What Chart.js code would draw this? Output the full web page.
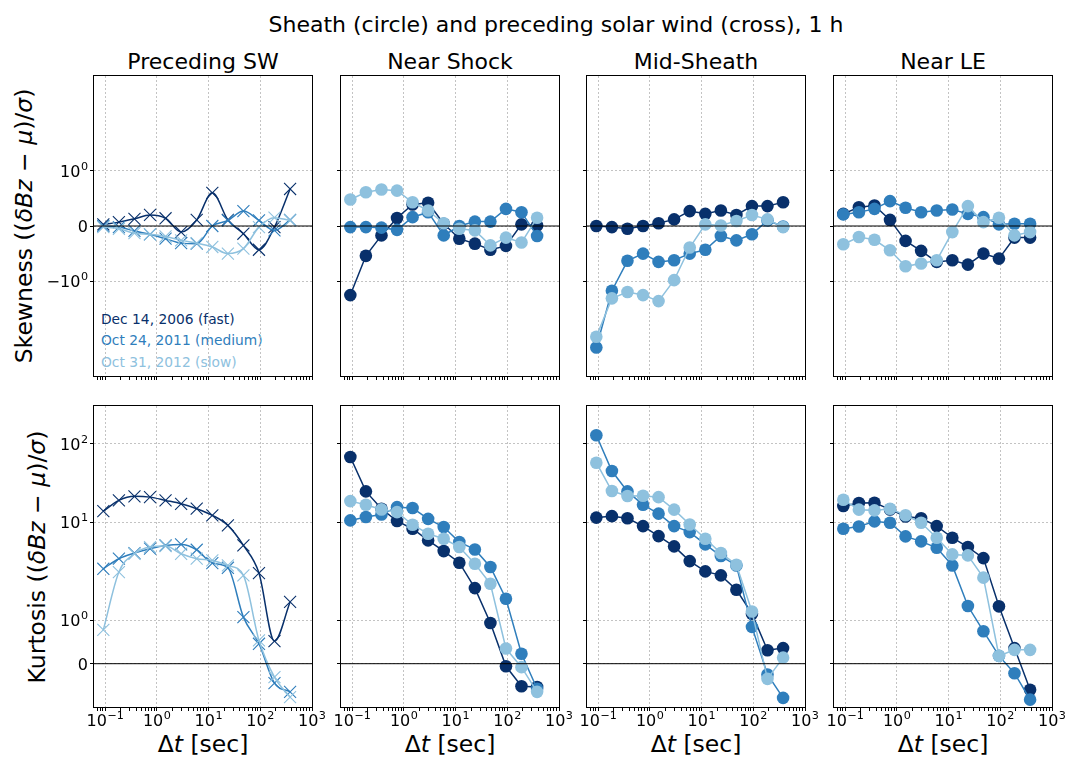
<!DOCTYPE html>
<html>
<head>
<meta charset="utf-8">
<script src="https://cdn.jsdelivr.net/npm/chart.js@4.4.1/dist/chart.umd.min.js"></script>
<style>
  body { margin: 0; background: #fff; width: 1070px; height: 758px; position: relative; overflow: hidden;
         font-family: "DejaVu Sans", sans-serif; color: #000; }
  canvas { position: absolute; }
  .txt { position: absolute; white-space: nowrap; line-height: 1; transform: translate(-50%, -50%); }
  .ylab { position: absolute; white-space: nowrap; line-height: 1; font-size: 23.5px;
          transform: translate(-50%, -50%) rotate(-90deg); }
  .leg { position: absolute; white-space: nowrap; line-height: 1; font-size: 13.8px; transform: translateY(-50%); }
</style>
</head>
<body>
<div class="txt" style="left:556px;top:25px;font-size:22px">Sheath (circle) and preceding solar wind (cross), 1 h</div>
<div id="labels"></div>

<script>
// lag times (0.092 s cadence, doubled each step)
const dtSec = [0.092, 0.184, 0.368, 0.736, 1.47, 2.94, 5.89, 11.8, 23.6, 47.1, 94.2, 188, 377];

const eventNames = ['Dec 14, 2006 (fast)', 'Oct 24, 2011 (medium)', 'Oct 31, 2012 (slow)'];
const eventColors = ['#08306b', '#2f7ebc', '#8ec1de'];
const regionNames = ['Preceding SW', 'Near Shock', 'Mid-Sheath', 'Near LE'];

// skewness, rows = fast, medium, slow
const skewPrecedingSW = [
  [0.03, 0.07, 0.13, 0.2, 0.14, -0.11, 0.11, 0.6, 0.11, -0.14, -0.43, -0.02, 0.67],
  [0.0, -0.02, -0.09, -0.15, -0.23, -0.31, -0.32, 0.0, 0.1, 0.27, 0.1, -0.08, 0.11],
  [-0.02, -0.05, -0.13, -0.15, -0.19, -0.26, -0.31, -0.38, -0.5, -0.41, -0.02, 0.15, 0.1]
];
const skewNearShock = [
  [-1.29, -0.54, -0.17, 0.145, 0.39, 0.42, 0.04, -0.23, -0.32, -0.43, -0.36, 0.03, 0.01],
  [-0.02, -0.02, -0.03, -0.07, 0.16, 0.25, -0.17, 0.0, 0.08, 0.08, 0.31, 0.25, -0.18],
  [0.48, 0.61, 0.66, 0.64, 0.43, 0.28, 0.05, -0.05, -0.08, -0.35, -0.21, -0.3, 0.15]
];
const skewMidSheath = [
  [0, -0.02, -0.05, 0, 0.05, 0.12, 0.27, 0.22, 0.28, 0.2, 0.36, 0.36, 0.43],
  [-3.38, -1.19, -0.63, -0.5, -0.65, -0.62, -0.5, -0.43, -0.18, -0.26, -0.15, 0.1, -0.01],
  [-2.77, -1.37, -1.22, -1.29, -1.44, -0.98, -0.39, 0.03, 0.01, 0.09, 0.2, 0.12, -0.02]
];
const skewNearLE = [
  [0.22, 0.34, 0.37, 0.11, -0.27, -0.45, -0.65, -0.62, -0.7, -0.5, -0.59, -0.21, -0.21],
  [0.21, 0.25, 0.31, 0.45, 0.33, 0.25, 0.28, 0.3, 0.22, 0.16, 0.03, 0.04, 0.04],
  [-0.33, -0.2, -0.25, -0.44, -0.73, -0.68, -0.62, -0.11, 0.36, 0.07, 0.15, -0.17, -0.11]
];

// kurtosis
const kurtPrecedingSW = [
  [13.8, 18.9, 21.3, 20.8, 18.9, 17.1, 14.8, 12.2, 9.25, 5.79, 3.03, 0.52, 1.54],
  [3.35, 4.24, 4.84, 5.36, 5.79, 5.93, 5.23, 3.83, 3.43, 1.08, 0.46, -0.45, -0.65],
  [0.78, 3.1, 4.76, 5.57, 5.7, 4.76, 4.24, 4.07, 3.62, 2.87, 0.54, -0.31, -0.77]
];
const kurtNearShock = [
  [67.6, 24.6, 14.8, 10.3, 8.55, 6.51, 5.07, 3.86, 2.13, 0.94, -0.06, -0.52, -0.54],
  [10.5, 11.6, 12.5, 15.5, 15.1, 11.0, 8.9, 6.26, 5.27, 3.49, 1.66, 0.23, -0.58],
  [18.5, 16.6, 14.5, 13.4, 9.4, 7.61, 6.77, 5.57, 3.77, 2.36, 0.35, -0.08, -0.65]
];
const kurtMidSheath = [
  [11.4, 11.9, 11.2, 9.1, 7.2, 5.66, 4.01, 3.15, 2.87, 2.05, 1.17, 0.31, 0.36],
  [128, 44.8, 24.6, 16.6, 12.8, 9.1, 7.91, 5.93, 4.51, 3.62, 0.85, -0.25, -0.79],
  [57.1, 24.9, 21.5, 21.7, 20.8, 14.4, 9.46, 6.77, 4.84, 3.68, 1.23, -0.35, 0.14]
];
const kurtNearLE = [
  [16.0, 17.5, 17.6, 14.5, 11.8, 11.2, 9.1, 6.93, 5.57, 4.3, 1.39, 0.36, -0.6],
  [8.55, 9.03, 10.2, 9.84, 7.15, 6.36, 5.48, 3.62, 1.4, 0.75, 0.18, -0.22, -0.83],
  [19.3, 14.4, 14.1, 14.8, 12.2, 9.84, 6.93, 4.69, 4.58, 2.72, 0.18, 0.32, 0.32]
];

const xMajorTicks = [0.1, 1, 10, 100, 1000];
const skewTicks = [-1, 0, 1];
const kurtTicks = [0, 1, 10, 100];

const X_MIN = 0.0607, X_MAX = 1000;

// y axis warp: linear inside |v| <= 1, then one stretch per decade
const DECADE = [2.27, 1.811];
function warp(v) {
  const a = Math.abs(v);
  let u;
  if (a <= 1) {
    u = a;
  } else {
    const l = Math.log10(a);
    u = l <= 1 ? 1 + DECADE[0] * l : 1 + DECADE[0] + DECADE[1] * (l - 1);
  }
  return v < 0 ? -u : u;
}
function unwarp(u) {
  const a = Math.abs(u);
  let v;
  if (a <= 1) v = a;
  else if (a <= 1 + DECADE[0]) v = Math.pow(10, (a - 1) / DECADE[0]);
  else v = Math.pow(10, 1 + (a - 1 - DECADE[0]) / DECADE[1]);
  return u < 0 ? -v : v;
}

class WarpScale extends Chart.Scale {
  determineDataLimits() {
    this.min = this.options.min;
    this.max = this.options.max;
  }
  buildTicks() {
    return [];
  }
  configure() {
    super.configure();
    this._u0 = warp(this.min);
    this._u1 = warp(this.max);
  }
  getLabelForValue(v) {
    return String(v);
  }
  getPixelForValue(v) {
    return this.getPixelForDecimal((warp(v) - this._u0) / (this._u1 - this._u0));
  }
  getValueForPixel(p) {
    return unwarp(this._u0 + this.getDecimalForPixel(p) * (this._u1 - this._u0));
  }
}
WarpScale.id = 'warp';
WarpScale.defaults = {};
Chart.register(WarpScale);

// tick label as base + raised exponent, like 10^{-1}
function powParts(v) {
  if (v === 0) return ['0', ''];
  const e = Math.round(Math.log10(Math.abs(v)));
  return [(v < 0 ? '−' : '') + '10', String(e).replace('-', '−')];
}

function drawPow(ctx, v, x, baseline, align) {
  const [base, exp] = powParts(v);
  ctx.font = '16px "DejaVu Sans"';
  const wb = ctx.measureText(base).width;
  ctx.font = '11.2px "DejaVu Sans"';
  const we = exp ? ctx.measureText(exp).width + 0.5 : 0;
  const total = wb + we;
  const x0 = align === 'right' ? x - total : x - total / 2;
  ctx.textAlign = 'left';
  ctx.textBaseline = 'alphabetic';
  ctx.font = '16px "DejaVu Sans"';
  ctx.fillText(base, x0, baseline);
  if (exp) {
    ctx.font = '11.2px "DejaVu Sans"';
    ctx.fillText(exp, x0 + wb + 0.5, baseline - 7);
  }
}

const powTicks = {
  id: 'powTicks',
  afterDraw(chart, args, opts) {
    const { ctx, chartArea: a } = chart;
    ctx.save();
    ctx.fillStyle = '#000';
    if (opts.x) {
      const xs = chart.scales.x;
      xs.ticks.forEach(t => {
        if (t.major) drawPow(ctx, t.value, xs.getPixelForValue(t.value), a.bottom + 19, 'center');
      });
    }
    if (opts.y) {
      const ys = chart.scales.y;
      ys.ticks.forEach(t => {
        drawPow(ctx, t.value, a.left - 6, ys.getPixelForValue(t.value) + 6, 'right');
      });
    }
    ctx.restore();
  }
};

const xAllTicks = [];
for (let d = -2; d <= 2; d++) {
  for (let m = 1; m <= 9; m++) {
    const v = m * Math.pow(10, d);
    if (v >= X_MIN && v <= X_MAX) xAllTicks.push({ value: v, major: m === 1 });
  }
}
xAllTicks.push({ value: 1000, major: true });

const frame = {
  id: 'frame',
  afterDraw(chart) {
    const { ctx, chartArea: a } = chart;
    ctx.save();
    ctx.strokeStyle = '#000';
    ctx.lineWidth = 1;
    ctx.strokeRect(Math.round(a.left) - 0.5, Math.round(a.top) - 0.5,
      Math.round(a.right - a.left) + 1, Math.round(a.bottom - a.top) + 1);
    ctx.restore();
  }
};

const rows = [
  { data: [skewPrecedingSW, skewNearShock, skewMidSheath, skewNearLE], ticks: skewTicks,
    min: -5.7, max: 5.7, top: 76, height: 300 },
  { data: [kurtPrecedingSW, kurtNearShock, kurtMidSheath, kurtNearLE], ticks: kurtTicks,
    min: -1, max: 302, top: 406, height: 301 }
];
const colLeft = [94, 341, 587, 834];
const PANEL_W = 218, AX_W = 62, AX_H = 34, PAD_T = 10, PAD_R = 26;

const gridColor = '#b4b4b4';

rows.forEach((row, r) => {
  row.data.forEach((panel, c) => {
    const cv = document.createElement('canvas');
    const w = AX_W + PANEL_W + PAD_R;
    const h = PAD_T + row.height + AX_H;
    cv.width = w;
    cv.height = h;
    cv.style.left = (colLeft[c] - AX_W) + 'px';
    cv.style.top = (row.top - PAD_T) + 'px';
    document.body.appendChild(cv);

    const isSW = c === 0;
    const datasets = panel.map((vals, i) => ({
      data: dtSec.map((x, k) => ({ x, y: vals[k] })),
      borderColor: eventColors[i],
      backgroundColor: eventColors[i],
      borderWidth: 1.5,
      pointStyle: isSW ? 'crossRot' : 'circle',
      pointRadius: isSW ? 8.5 : 6.3,
      pointBorderWidth: isSW ? 1.1 : 0,
      cubicInterpolationMode: isSW ? 'monotone' : 'default',
      order: 3 - i
    }));
    datasets.push({
      data: [{ x: X_MIN, y: 0 }, { x: X_MAX, y: 0 }],
      borderColor: '#000',
      borderWidth: 1,
      pointRadius: 0,
      order: -1
    });

    new Chart(cv, {
      type: 'line',
      data: { datasets },
      plugins: [frame, powTicks],
      options: {
        responsive: false,
        animation: false,
        events: [],
        layout: { padding: { top: PAD_T, right: PAD_R, left: 0, bottom: 0 } },
        plugins: {
          legend: { display: false },
          tooltip: { enabled: false },
          powTicks: { x: r === 1, y: c === 0 }
        },
        scales: {
          x: {
            type: 'logarithmic',
            min: X_MIN,
            max: X_MAX,
            afterBuildTicks: s => { s.ticks = xAllTicks.map(t => ({ ...t })); },
            afterFit: s => { s.height = AX_H; s.paddingLeft = 0; s.paddingRight = 0; },
            border: { display: false, dash: [2, 2] },
            grid: {
              color: ctx => (ctx.tick && ctx.tick.major ? gridColor : 'rgba(0,0,0,0)'),
              lineWidth: 0.8,
              tickColor: '#000',
              tickLength: 4,
              tickWidth: 1
            },
            ticks: { autoSkip: false, maxRotation: 0, minRotation: 0, callback: () => '' }
          },
          y: {
            type: 'warp',
            min: row.min,
            max: row.max,
            afterBuildTicks: s => { s.ticks = row.ticks.map(v => ({ value: v, major: true })); },
            afterFit: s => { s.width = AX_W; s.paddingTop = 0; s.paddingBottom = 0; },
            border: { display: false, dash: [2, 2] },
            grid: {
              color: gridColor,
              lineWidth: 0.8,
              tickColor: '#000',
              tickLength: 4,
              tickWidth: 1
            },
            ticks: { autoSkip: false, callback: () => '' }
          }
        }
      }
    });
  });
});

// titles, axis labels and legend text
const labels = document.getElementById('labels');
function addDiv(cls, html, style) {
  const d = document.createElement('div');
  d.className = cls;
  d.innerHTML = html;
  Object.assign(d.style, style);
  labels.appendChild(d);
}
regionNames.forEach((name, c) => {
  const cx = colLeft[c] + PANEL_W / 2;
  addDiv('txt', name, { left: cx + 'px', top: '62px', fontSize: '22px' });
  addDiv('txt', 'Δ<i>t</i> [sec]', { left: cx + 'px', top: '745px', fontSize: '23.5px' });
});
addDiv('ylab', 'Skewness ((<i>δBz</i> − <i>μ</i>)/<i>σ</i>)', { left: '25px', top: '226px' });
addDiv('ylab', 'Kurtosis ((<i>δBz</i> − <i>μ</i>)/<i>σ</i>)', { left: '38px', top: '557px' });
eventNames.forEach((name, i) => {
  addDiv('leg', name, { left: '101px', top: (320 + i * 21.3) + 'px', color: eventColors[i] });
});
</script>
</body>
</html>
